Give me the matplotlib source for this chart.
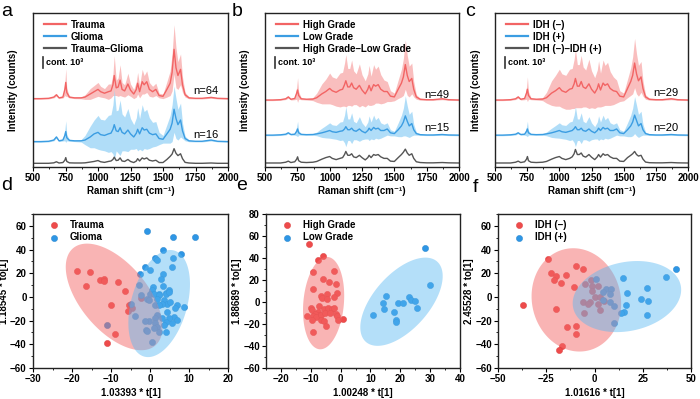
import numpy as np
import matplotlib
matplotlib.use('Agg')
import matplotlib.pyplot as plt

plt.rcParams['font.family'] = ['Liberation Sans', 'DejaVu Sans']
plt.rcParams['font.weight'] = 'bold'
plt.rcParams['axes.labelweight'] = 'bold'
plt.rcParams['font.size'] = 7

### Raman spectra (shared shift grid, heights above each trace's baseline)
shift = [500, 560, 620, 660, 680, 700, 730, 745, 752, 760, 780, 820, 870, 900, 940, 970, 1000, 1020, 1050, 1080,
         1100, 1115, 1125, 1140, 1155, 1170, 1185, 1205, 1230, 1250, 1275, 1295, 1305, 1320, 1340, 1355, 1375, 1395, 1420, 1445,
         1470, 1500, 1530, 1555, 1570, 1585, 1600, 1615, 1635, 1650, 1670, 1700, 1750, 1800, 1870, 1920, 2000]

# panel a
trauma_mean = [0, 0, 0.02, 0.1, 0.25, 0.05, 0.1, 0.6, 1.05, 0.4, 0.1, 0.05, 0.05, 0.1, 0.3, 0.45, 0.6, 0.45, 0.35, 0.45,
               0.5, 0.9, 1.5, 0.7, 0.75, 1.2, 0.6, 0.5, 0.95, 0.55, 0.3, 0.6, 1.0, 0.45, 1.1, 0.9, 1.1, 0.6, 0.45, 0.6,
               0.2, 0.15, 0.6, 1.0, 1.7, 3.2, 2.0, 1.5, 1.9, 0.9, 0.25, 0.05, 0.02, 0.02, 0.08, 0.02, 0]
trauma_sd = [0.04, 0.04, 0.04, 0.05, 0.08, 0.05, 0.06, 0.4, 0.9, 0.25, 0.06, 0.05, 0.06, 0.15, 0.35, 0.4, 0.45, 0.35, 0.3, 0.5,
             0.45, 0.7, 1.3, 0.5, 0.6, 1.0, 0.45, 0.4, 0.7, 0.4, 0.3, 0.5, 0.7, 0.4, 0.8, 0.6, 0.7, 0.45, 0.35, 0.4,
             0.15, 0.15, 0.5, 0.8, 1.2, 1.6, 1.3, 0.9, 1.0, 0.5, 0.15, 0.06, 0.04, 0.04, 0.06, 0.04, 0.04]
glioma_mean = [0, 0, 0.02, 0.1, 0.3, 0.05, 0.1, 0.4, 0.65, 0.25, 0.08, 0.05, 0.05, 0.1, 0.3, 0.5, 0.6, 0.45, 0.4, 0.5,
               0.55, 0.8, 1.1, 0.7, 0.65, 0.9, 0.6, 0.5, 0.75, 0.5, 0.3, 0.55, 0.8, 0.5, 0.9, 0.75, 0.8, 0.55, 0.45, 0.5,
               0.2, 0.15, 0.5, 0.8, 1.2, 2.1, 1.5, 1.1, 1.4, 0.7, 0.2, 0.05, 0.02, 0.02, 0.1, 0.02, 0]
glioma_sd = [0.04, 0.04, 0.04, 0.05, 0.08, 0.05, 0.06, 0.35, 0.7, 0.2, 0.06, 0.05, 0.08, 0.3, 0.7, 0.9, 1.1, 1.0, 1.0, 1.2,
             1.2, 1.6, 2.3, 1.3, 1.4, 1.8, 1.2, 1.1, 1.4, 1.0, 0.8, 1.0, 1.4, 1.0, 1.5, 1.2, 1.3, 1.0, 0.8, 0.8,
             0.4, 0.25, 0.6, 0.9, 1.2, 1.5, 1.3, 1.0, 1.1, 0.5, 0.15, 0.06, 0.04, 0.04, 0.06, 0.04, 0.04]
diff_a = [0, 0, 0, 0.03, 0.1, 0.02, 0.05, 0.2, 0.37, 0.12, 0.03, 0.02, 0.02, 0.03, 0.08, 0.12, 0.18, 0.1, 0.06, 0.12,
          0.15, 0.25, 0.4, 0.18, 0.2, 0.35, 0.15, 0.12, 0.25, 0.12, 0.05, 0.15, 0.3, 0.15, 0.35, 0.28, 0.35, 0.2, 0.15, 0.2,
          0.05, 0.05, 0.25, 0.45, 0.6, 0.95, 0.65, 0.5, 0.62, 0.3, 0.06, 0.02, 0, 0, 0.02, 0, 0]

# panel b
high_mean = [0, 0, 0.02, 0.08, 0.2, 0.05, 0.1, 0.45, 0.65, 0.3, 0.08, 0.05, 0.06, 0.15, 0.4, 0.55, 0.75, 0.6, 0.5, 0.65,
             0.7, 1.0, 1.25, 0.85, 0.85, 1.1, 0.8, 0.7, 0.95, 0.65, 0.4, 0.7, 0.95, 0.6, 1.0, 0.9, 1.0, 0.7, 0.55, 0.55,
             0.25, 0.2, 0.7, 1.1, 1.5, 2.3, 1.6, 1.2, 1.4, 0.7, 0.2, 0.05, 0.02, 0.02, 0.08, 0.02, 0]
high_sd = [0.04, 0.04, 0.04, 0.05, 0.08, 0.05, 0.08, 0.4, 0.8, 0.25, 0.06, 0.05, 0.1, 0.3, 0.65, 0.8, 1.0, 0.9, 0.9, 1.1,
           1.1, 1.4, 1.7, 1.2, 1.2, 1.5, 1.1, 1.0, 1.4, 1.0, 0.85, 1.0, 1.3, 0.95, 1.3, 1.1, 1.2, 0.95, 0.75, 0.65,
           0.35, 0.25, 0.6, 0.9, 1.2, 1.6, 1.3, 1.0, 1.0, 0.5, 0.15, 0.06, 0.04, 0.04, 0.06, 0.04, 0.04]
low_mean = [0, 0, 0.02, 0.06, 0.15, 0.04, 0.06, 0.25, 0.4, 0.15, 0.05, 0.03, 0.04, 0.08, 0.15, 0.22, 0.3, 0.22, 0.18, 0.25,
            0.28, 0.4, 0.55, 0.35, 0.35, 0.45, 0.3, 0.25, 0.4, 0.25, 0.15, 0.3, 0.45, 0.3, 0.5, 0.4, 0.45, 0.3, 0.3, 0.4,
            0.15, 0.1, 0.35, 0.6, 0.85, 1.25, 0.9, 0.6, 0.75, 0.35, 0.1, 0.03, 0.01, 0.01, 0.04, 0.01, 0]
low_sd = [0.04, 0.04, 0.04, 0.05, 0.06, 0.04, 0.06, 0.3, 0.5, 0.15, 0.05, 0.04, 0.05, 0.12, 0.3, 0.4, 0.5, 0.45, 0.45, 0.6,
          0.6, 0.9, 1.3, 0.7, 0.7, 1.0, 0.6, 0.55, 0.8, 0.55, 0.4, 0.55, 0.8, 0.55, 0.8, 0.6, 0.7, 0.5, 0.4, 0.4,
          0.2, 0.15, 0.45, 0.7, 0.9, 1.3, 1.0, 0.75, 0.8, 0.35, 0.1, 0.05, 0.04, 0.04, 0.05, 0.04, 0.04]
diff_b = [0, 0, 0, 0.05, 0.12, 0.03, 0.08, 0.25, 0.4, 0.15, 0.05, 0.03, 0.05, 0.1, 0.25, 0.35, 0.42, 0.3, 0.22, 0.3,
          0.35, 0.55, 0.75, 0.5, 0.5, 0.6, 0.4, 0.35, 0.5, 0.35, 0.2, 0.35, 0.5, 0.35, 0.55, 0.5, 0.55, 0.4, 0.3, 0.3,
          0.12, 0.1, 0.35, 0.55, 0.7, 0.9, 0.65, 0.5, 0.6, 0.3, 0.08, 0.03, 0.01, 0.01, 0.03, 0.01, 0]

# panel c
idhneg_mean = [0, 0, 0.02, 0.08, 0.2, 0.05, 0.1, 0.45, 0.7, 0.3, 0.08, 0.05, 0.06, 0.15, 0.45, 0.6, 0.8, 0.6, 0.5, 0.7,
               0.75, 1.05, 1.4, 0.9, 0.9, 1.2, 0.85, 0.75, 1.05, 0.7, 0.45, 0.75, 1.05, 0.65, 1.1, 0.95, 1.05, 0.75, 0.6, 0.55,
               0.25, 0.2, 0.75, 1.2, 1.6, 2.4, 1.7, 1.25, 1.5, 0.75, 0.2, 0.05, 0.02, 0.02, 0.08, 0.02, 0]
idhneg_sd = [0.04, 0.04, 0.04, 0.05, 0.08, 0.05, 0.08, 0.4, 0.8, 0.25, 0.06, 0.05, 0.1, 0.35, 0.8, 1.0, 1.2, 1.1, 1.1, 1.3,
             1.3, 1.6, 1.9, 1.4, 1.4, 1.7, 1.3, 1.2, 1.6, 1.2, 1.0, 1.2, 1.5, 1.1, 1.5, 1.3, 1.4, 1.1, 0.9, 0.75,
             0.35, 0.25, 0.6, 0.9, 1.2, 1.6, 1.3, 1.0, 1.0, 0.5, 0.15, 0.06, 0.04, 0.04, 0.06, 0.04, 0.04]
idhpos_mean = [0, 0, 0.02, 0.06, 0.15, 0.04, 0.06, 0.25, 0.4, 0.15, 0.05, 0.03, 0.04, 0.08, 0.15, 0.22, 0.3, 0.22, 0.18, 0.25,
               0.3, 0.42, 0.55, 0.35, 0.35, 0.45, 0.3, 0.25, 0.4, 0.25, 0.15, 0.3, 0.45, 0.3, 0.5, 0.4, 0.45, 0.3, 0.3, 0.4,
               0.15, 0.1, 0.35, 0.6, 0.85, 1.3, 0.95, 0.6, 0.75, 0.35, 0.1, 0.03, 0.01, 0.01, 0.04, 0.01, 0]
idhpos_sd = [0.04, 0.04, 0.04, 0.05, 0.06, 0.04, 0.06, 0.3, 0.5, 0.15, 0.05, 0.04, 0.05, 0.12, 0.3, 0.4, 0.5, 0.45, 0.45, 0.6,
             0.6, 0.9, 1.3, 0.7, 0.7, 1.0, 0.6, 0.55, 0.8, 0.55, 0.4, 0.55, 0.8, 0.55, 0.8, 0.6, 0.7, 0.5, 0.4, 0.4,
             0.2, 0.15, 0.45, 0.7, 0.9, 1.2, 1.0, 0.75, 0.8, 0.35, 0.1, 0.05, 0.04, 0.04, 0.05, 0.04, 0.04]
diff_c = [0, 0, 0, 0.05, 0.12, 0.03, 0.08, 0.25, 0.42, 0.15, 0.05, 0.03, 0.05, 0.1, 0.25, 0.35, 0.42, 0.3, 0.22, 0.3,
          0.4, 0.6, 0.88, 0.55, 0.55, 0.65, 0.45, 0.38, 0.55, 0.38, 0.22, 0.4, 0.55, 0.38, 0.6, 0.5, 0.55, 0.4, 0.3, 0.3,
          0.12, 0.1, 0.35, 0.5, 0.6, 0.75, 0.55, 0.45, 0.5, 0.25, 0.06, 0.02, 0.01, 0.01, 0.03, 0.01, 0]

spectra_panels = [
    dict(labels=['Trauma', 'Glioma', 'Trauma–Glioma'],
         red=(trauma_mean, trauma_sd), blue=(glioma_mean, glioma_sd), diff=diff_a,
         base=(4.44, 1.65, 0.24), n=('n=64', 'n=16'), ny=(4.95, 2.08)),
    dict(labels=['High Grade', 'Low Grade', 'High Grade–Low Grade'],
         red=(high_mean, high_sd), blue=(low_mean, low_sd), diff=diff_b,
         base=(4.35, 2.07, 0.26), n=('n=49', 'n=15'), ny=(4.68, 2.53)),
    dict(labels=['IDH (–)', 'IDH (+)', 'IDH (–)–IDH (+)'],
         red=(idhneg_mean, idhneg_sd), blue=(idhpos_mean, idhpos_sd), diff=diff_c,
         base=(4.35, 2.07, 0.26), n=('n=29', 'n=20'), ny=(4.8, 2.53)),
]

### OPLS-DA scores
d_red_x = [-18.7, -15.3, -16.3, -12.8, -11.9, -11.7, -8.1, -6.3, -10.0, -5.5, -4.6, -5.7, -2.4, -8.9, -10.9]
d_red_y = [21.5, 20.9, 8.9, 14.6, 15.1, 13.1, 12.3, 5.3, -7.0, -7.0, -9.7, -12.0, -0.5, -31.5, -38.5]
d_blue_x = [-0.75, 5.8, 11.5, 3.4, 7.9, 1.4, 1.7, 6.0, -1.4, 0.1, 5.7, -2.5, 3.4, 2.9, -2.9, 0.7, 0.5, 3.4, 4.8, 4.0,
            2.3, 0.1, -2.2, -0.75, -0.3, 0.95, 2.2, 4.0, 4.8, 1.8, 3.5, 4.4, 5.2, 7.0, 8.7, 6.5, 3.1, 1.4, 2.2, -5.0,
            4.4, 6.1, 7.0, 5.7, 4.8, 4.1, 3.1, 1.8, 1.4, 1.2, 1.8, 3.5, 4.0, 2.2, 0.95, -0.3, -1.2, -1.0, -0.75, -3.8,
            -10.9, 0.5]
d_blue_y = [55.9, 50.8, 50.8, 39.9, 36.3, 32.7, 31.3, 33.0, 25.1, 22.4, 25.1, 19.6, 19.0, 15.4, 9.8, 8.4, 6.2, 9.2, 6.2, 3.4,
            2.8, 2.8, 1.4, -1.4, -2.8, 2.8, 1.4, 2.8, 4.2, -1.4, -2.8, -5.6, -4.2, -7.0, -8.4, -9.7, -5.6, -7.0, -7.0, -5.6,
            -12.6, -16.8, -19.5, -22.3, -18.1, -20.9, -18.1, -15.3, -18.1, -22.3, -25.1, -23.7, -29.3, -29.3, -26.5, -20.1, -20.4, -27.9, -28.5, -16.2,
            -23.4, -37.7]

e_red_x = [-10.5, -5.8, -7.7, -9.3, -2.3, -5.8, -3.8, -1.6, -9.3, -4.6, -1.2, -6.5, -6.3, -4.5, -2.1, -7.4, -9.8, -9.7, -7.7, -7.4,
           -8.7, -5.7, -4.1, -2.9, -2.2, -11.1, -9.3, -8.2, -6.6, -5.1, -3.6, -1.7, -1.1, -1.0, 0.8, -9.7, -6.6, -5.4, -4.9, -9.2]
e_red_y = [52.7, 41.6, 38.0, 26.9, 28.1, 21.2, 18.0, 16.2, 11.9, 7.5, 8.1, 5.1, 3.9, 2.7, 4.2, -3.3, -5.7, -6.9, -9.3, -11.4,
           -10.8, -6.0, -5.4, -6.0, -5.4, -12.3, -12.9, -13.5, -11.7, -9.9, -9.9, -10.8, -12.9, -16.5, -15.3, -16.5, -16.5, -17.1, -21.9, -27.3]
e_blue_x = [28.4, 29.8, 15.1, 14.2, 14.5, 10.8, 17.8, 18.4, 18.4, 19.3, 20.8, 23.0, 23.7, 25.0, 25.7]
e_blue_y = [49.1, 15.6, 5.4, -1.2, -6.3, -11.7, -8.7, -16.5, -18.0, -1.2, -1.2, 4.5, 1.5, 0.6, -5.4]

f_red_x = [-37.2, -24.1, -22.7, -19.9, -21.1, -14.8, -17.1, -19.7, -9.8, -5.9, -10.5, -14.5, -9.6, -9.6, -16.8, -18.3,
           -4.9, -5.2, -6.1, -1.9, -1.4, -1.2, -2.3, -3.3, 0.3, 1.7, 2.6, 1.6, 2.6, 5.1]
f_red_y = [-6.9, 32.2, 20.3, 17.8, 14.2, 18.1, 11.9, -10.0, 26.1, 23.6, 8.6, -25.8, -24.2, -31.7, -41.7, -45.0,
           10.6, -13.6, -4.7, 14.7, 9.4, 4.7, -4.7, -6.1, 0.3, 9.2, 0.3, -5.8, -10.8, -3.6]
f_blue_x = [0.9, 6.1, 8.7, 4.2, 4.4, 8.2, 10.3, 10.3, 14.8, 16.6, 16.1, 15.5, 13.8, 24.3, 27.1, 27.9, 27.1, 37.3, 42.4, 7.9]
f_blue_y = [15.3, 6.7, 6.4, 4.4, -2.5, -4.7, -7.5, -21.9, 15.8, 3.6, -6.9, -13.1, -13.9, -1.7, 7.8, -3.1, -15.0, 16.4, 23.6, 2.2]

# confidence ellipses: centre x, centre y, sd x, sd y, correlation
d_ell = [(-9.2, 0.0, 12.4, 45.0, -0.56), (2.35, -5.6, 7.9, 45.2, 0.36)]
e_ell = [(-5.7, -1.0, 6.9, 42.0, 0.16), (20.4, 0.25, 13.8, 40.1, 0.58)]
f_ell = [(-9.4, -2.5, 23.2, 43.6, -0.07), (16.8, 0.3, 28.1, 30.0, 0.19)]

score_panels = [
    dict(labels=['Trauma', 'Glioma'], red=(d_red_x, d_red_y), blue=(d_blue_x, d_blue_y), ell=d_ell,
         xlim=(-30, 20), xticks=np.arange(-30, 21, 10), ylim=(-60, 70), yticks=np.arange(-60, 61, 20),
         xlabel='1.03393 * t[1]', ylabel='1.18545 * to[1]'),
    dict(labels=['High Grade', 'Low Grade'], red=(e_red_x, e_red_y), blue=(e_blue_x, e_blue_y), ell=e_ell,
         xlim=(-25, 40), xticks=np.arange(-20, 41, 10), ylim=(-60, 80), yticks=np.arange(-60, 81, 20),
         xlabel='1.00248 * t[1]', ylabel='1.88689 * to[1]'),
    dict(labels=['IDH (–)', 'IDH (+)'], red=(f_red_x, f_red_y), blue=(f_blue_x, f_blue_y), ell=f_ell,
         xlim=(-50, 50), xticks=np.arange(-50, 51, 25), ylim=(-60, 70), yticks=np.arange(-60, 61, 20),
         xlabel='1.01616 * t[1]', ylabel='2.45528 * to[1]'),
]

RED_LINE = '#f26464'
RED_FILL = '#f9b3b3'
BLUE_LINE = '#3b9de2'
BLUE_FILL = '#a3d8f7'
GRAY_LINE = '#555555'
RED_PT = '#ee4b4b'
BLUE_PT = '#2e96e5'


def style_axes(ax):
    for s in ax.spines.values():
        s.set_linewidth(1.0)
        s.set_color('#222222')
    ax.tick_params(which='major', direction='out', length=3, width=0.8, labelsize=7, pad=1.5)
    ax.tick_params(which='minor', direction='out', length=1.5, width=0.6)


def draw_ellipse(ax, cx, cy, sx, sy, rho, color, alpha):
    t = np.linspace(0, 2 * np.pi, 240)
    cov = np.array([[sx * sx, rho * sx * sy], [rho * sx * sy, sy * sy]])
    L = np.linalg.cholesky(cov)
    pts = L @ np.vstack([np.cos(t), np.sin(t)])
    ax.fill(cx + pts[0], cy + pts[1], color=color, alpha=alpha, lw=0, zorder=3)


fig = plt.figure(figsize=(7.0, 3.99), dpi=100)
W, H = 700, 399
top_boxes = [(33, 13, 195, 154), (265, 13, 194, 154), (495, 13, 193, 154)]
bot_boxes = [(33, 214, 195, 154), (266, 214, 194, 154), (498, 214, 193, 154)]
letter_pos = [(7, 11), (237, 11), (470, 11), (7, 186), (242, 186), (475, 187)]


def add_axes(box):
    x, y, w, h = box
    return fig.add_axes([x / W, (H - y - h) / H, w / W, h / H])


x = np.array(shift)
for p, box in zip(spectra_panels, top_boxes):
    ax = add_axes(box)
    rb, bb, gb = p['base']
    rm, rs = np.array(p['red'][0]) + rb, np.array(p['red'][1])
    bm, bs = np.array(p['blue'][0]) + bb, np.array(p['blue'][1])
    ax.fill_between(x, rm - rs, rm + rs, color=RED_FILL, lw=0, alpha=0.85)
    ax.plot(x, rm, color=RED_LINE, lw=1.0, label=p['labels'][0])
    ax.fill_between(x, bm - bs, bm + bs, color=BLUE_FILL, lw=0, alpha=0.85)
    ax.plot(x, bm, color=BLUE_LINE, lw=1.0, label=p['labels'][1])
    ax.plot(x, np.array(p['diff']) + gb, color=GRAY_LINE, lw=1.0, label=p['labels'][2])
    ax.set_xlim(500, 2000)
    ax.set_ylim(0, 10)
    ax.set_xticks(np.arange(500, 2001, 250))
    ax.set_xticks(np.arange(500, 2001, 125), minor=True)
    ax.set_yticks([])
    style_axes(ax)
    ax.set_xlabel('Raman shift (cm⁻¹)', fontsize=7, labelpad=2)
    ax.set_ylabel('Intensity (counts)', fontsize=7)
    ax.yaxis.set_label_coords(-0.075, 0.5)
    leg = ax.legend(loc='upper left', bbox_to_anchor=(0.02, 1.0), frameon=False, fontsize=7,
                    handlelength=2.3, handletextpad=0.5, labelspacing=0.2, borderaxespad=0.3)
    for ln in leg.get_lines():
        ln.set_linewidth(1.6)
    # 1000-count scale bar
    ax.plot([577, 577], [6.43, 7.14], color='#333333', lw=1.2)
    ax.text(600, 6.78, 'cont. 10³', fontsize=6.5, va='center', ha='left')
    ax.text(1730, p['ny'][0], p['n'][0], fontsize=8, fontweight='normal', va='center')
    ax.text(1730, p['ny'][1], p['n'][1], fontsize=8, fontweight='normal', va='center')

for p, box in zip(score_panels, bot_boxes):
    ax = add_axes(box)
    ax.scatter(p['red'][0], p['red'][1], s=20, color=RED_PT, edgecolors='#d83a3a', linewidths=0.3,
               zorder=2, label=p['labels'][0])
    ax.scatter(p['blue'][0], p['blue'][1], s=20, color=BLUE_PT, edgecolors='#1f7fc8', linewidths=0.3,
               zorder=2, label=p['labels'][1])
    (rcx, rcy, rsx, rsy, rr), (bcx, bcy, bsx, bsy, br) = p['ell']
    draw_ellipse(ax, rcx, rcy, rsx, rsy, rr, '#f46a6a', 0.5)
    draw_ellipse(ax, bcx, bcy, bsx, bsy, br, '#5ab8f2', 0.45)
    ax.set_xlim(*p['xlim'])
    ax.set_ylim(*p['ylim'])
    ax.set_xticks(p['xticks'])
    ax.set_yticks(p['yticks'])
    step_x = p['xticks'][1] - p['xticks'][0]
    ax.set_xticks(np.arange(p['xlim'][0], p['xlim'][1] + 0.01, step_x / 2), minor=True)
    ax.set_yticks(np.arange(-60, p['ylim'][1] + 0.01, 10), minor=True)
    style_axes(ax)
    ax.set_xlabel(p['xlabel'], fontsize=7, labelpad=3)
    ax.set_ylabel(p['ylabel'], fontsize=7)
    ax.yaxis.set_label_coords(-0.125, 0.5)
    ax.legend(loc='upper left', bbox_to_anchor=(0.03, 1.0), frameon=False, fontsize=7,
              handletextpad=0.6, labelspacing=0.25, borderaxespad=0.2, markerscale=1.0)

for letter, (lx, ly) in zip('abcdef', letter_pos):
    fig.text(lx / W, 1 - ly / H, letter, fontsize=14, fontweight='normal', ha='center', va='center')

fig.savefig('out.png', dpi=100)
